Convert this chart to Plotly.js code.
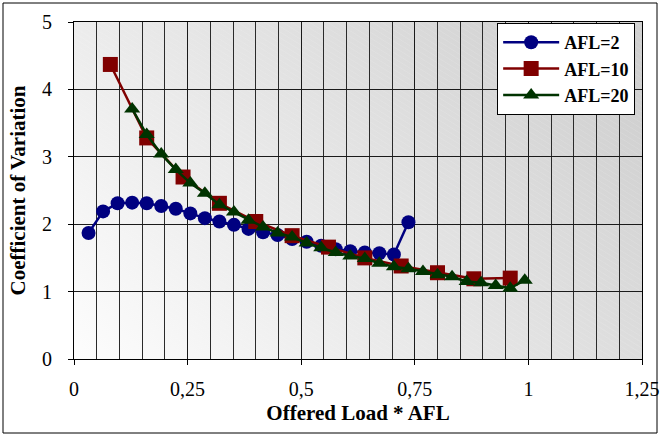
<!DOCTYPE html>
<html>
<head>
<meta charset="utf-8">
<script src="https://cdn.plot.ly/plotly-3.0.1.min.js"></script>
<style>
  html, body { margin: 0; padding: 0; background: #ffffff; }
  #chart { width: 661px; height: 437px; }
</style>
</head>
<body>
<div id="chart"></div>
<script>
// Offered load (normalised by AFL) for each series
const loadAFL2 = [0.032, 0.064, 0.096, 0.128, 0.160, 0.192, 0.224, 0.256, 0.288, 0.320,
                  0.352, 0.384, 0.416, 0.448, 0.480, 0.512, 0.544, 0.576, 0.608, 0.640,
                  0.672, 0.704, 0.736];
const covAFL2  = [1.87, 2.19, 2.31, 2.32, 2.31, 2.27, 2.23, 2.16, 2.09, 2.04,
                  1.99, 1.93, 1.88, 1.84, 1.78, 1.74, 1.68, 1.63, 1.60, 1.58,
                  1.57, 1.55, 2.03];

const loadAFL10 = [0.08, 0.16, 0.24, 0.32, 0.40, 0.48, 0.56, 0.64, 0.72, 0.80, 0.88, 0.96];
const covAFL10  = [4.37, 3.28, 2.70, 2.31, 2.04, 1.83, 1.66, 1.50, 1.38, 1.28, 1.19, 1.20];

const loadAFL20 = [0.128, 0.160, 0.192, 0.224, 0.256, 0.288, 0.320, 0.352, 0.384, 0.416,
                   0.448, 0.480, 0.512, 0.544, 0.576, 0.608, 0.640, 0.672, 0.704, 0.736,
                   0.768, 0.800, 0.832, 0.864, 0.896, 0.928, 0.960, 0.992];
const covAFL20  = [3.71, 3.33, 3.04, 2.81, 2.61, 2.46, 2.29, 2.18, 2.06, 1.96,
                   1.87, 1.81, 1.72, 1.65, 1.58, 1.53, 1.49, 1.42, 1.37, 1.34,
                   1.30, 1.25, 1.22, 1.15, 1.13, 1.09, 1.05, 1.17];

const xTickVals = [0, 0.25, 0.5, 0.75, 1, 1.25];
const xTickText = ['0', '0,25', '0,5', '0,75', '1', '1,25'];
const yTickVals = [0, 1, 2, 3, 4, 5];
const yTickText = ['0', '1', '2', '3', '4', '5'];

// Plot-area fill: diagonal grey gradient with faint light streaks
function plotAreaFill(w, h) {
  const c = document.createElement('canvas');
  c.width = w; c.height = h;
  const g = c.getContext('2d');
  const grad = g.createLinearGradient(0, h, w * 0.8, -h * 0.2);
  grad.addColorStop(0, '#fdfdfd');
  grad.addColorStop(0.5, '#e6e6e6');
  grad.addColorStop(1, '#cfcfcf');
  g.fillStyle = grad;
  g.fillRect(0, 0, w, h);
  g.strokeStyle = 'rgba(255,255,255,0.12)';
  g.lineWidth = 1;
  for (let k = -h * 2; k < w + h * 2; k += 9) {
    g.beginPath();
    g.moveTo(k, 0);
    g.lineTo(k + h * 1.6, h);
    g.stroke();
  }
  return c.toDataURL('image/png');
}

const serif = 'Liberation Serif, Times New Roman, serif';

const traces = [
  {
    x: loadAFL2, y: covAFL2, name: 'AFL=2', type: 'scatter', mode: 'lines+markers',
    line: { color: '#000080', width: 2.5 },
    marker: { symbol: 'circle', size: 14, color: '#000080' }
  },
  {
    x: loadAFL10, y: covAFL10, name: 'AFL=10', type: 'scatter', mode: 'lines+markers',
    line: { color: '#800000', width: 2.5 },
    marker: { symbol: 'square', size: 15, color: '#800000' }
  },
  {
    x: loadAFL20, y: covAFL20, name: 'AFL=20', type: 'scatter', mode: 'lines+markers',
    line: { color: '#003300', width: 2.5 },
    marker: { symbol: 'triangle-up', size: 14, color: '#003300' }
  }
];

const layout = {
  width: 661, height: 437,
  margin: { l: 74, r: 19, t: 22, b: 78 },
  paper_bgcolor: '#ffffff',
  plot_bgcolor: 'rgba(0,0,0,0)',
  font: { family: serif, size: 20, color: '#000000' },
  showlegend: true,
  legend: {
    x: 0.745, y: 0.997, xanchor: 'left', yanchor: 'top',
    bgcolor: '#ffffff', bordercolor: '#000000', borderwidth: 1,
    font: { family: serif, size: 18, color: '#000000', weight: 'bold' },
    itemwidth: 56, tracegroupgap: 0
  },
  xaxis: {
    range: [0, 1.25], tickvals: xTickVals, ticktext: xTickText,
    ticks: 'outside', ticklen: 5, tickcolor: '#000000',
    showline: true, linecolor: '#000000', linewidth: 1, mirror: true,
    showgrid: true, gridcolor: '#1a1a1a', gridwidth: 1,
    minor: { dtick: 0.05, showgrid: true, gridcolor: '#2a2a2a', gridwidth: 1 },
    zeroline: false, ticklabelstandoff: 7,
    title: { text: 'Offered Load * AFL', font: { family: serif, size: 21, weight: 'bold' }, standoff: 6 }
  },
  yaxis: {
    range: [0, 5], tickvals: yTickVals, ticktext: yTickText,
    ticks: 'outside', ticklen: 5, tickcolor: '#000000',
    showline: true, linecolor: '#000000', linewidth: 1, mirror: true,
    showgrid: true, gridcolor: '#1a1a1a', gridwidth: 1,
    zeroline: false, ticklabelstandoff: 12,
    title: { text: 'Coefficient of Variation', font: { family: serif, size: 21, weight: 'bold' }, standoff: 10 }
  },
  images: [{
    source: plotAreaFill(568, 337), xref: 'paper', yref: 'paper',
    x: 0, y: 1, sizex: 1, sizey: 1, xanchor: 'left', yanchor: 'top',
    sizing: 'stretch', layer: 'below'
  }],
  shapes: [{
    type: 'rect', xref: 'paper', yref: 'paper', layer: 'above',
    x0: (3 - 74) / 568, x1: (657 - 74) / 568,
    y0: (359 - 433) / 337, y1: (359 - 3) / 337,
    line: { color: '#000000', width: 1 }, fillcolor: 'rgba(0,0,0,0)'
  }]
};

Plotly.newPlot('chart', traces, layout, { displayModeBar: false, staticPlot: true });
</script>
</body>
</html>
